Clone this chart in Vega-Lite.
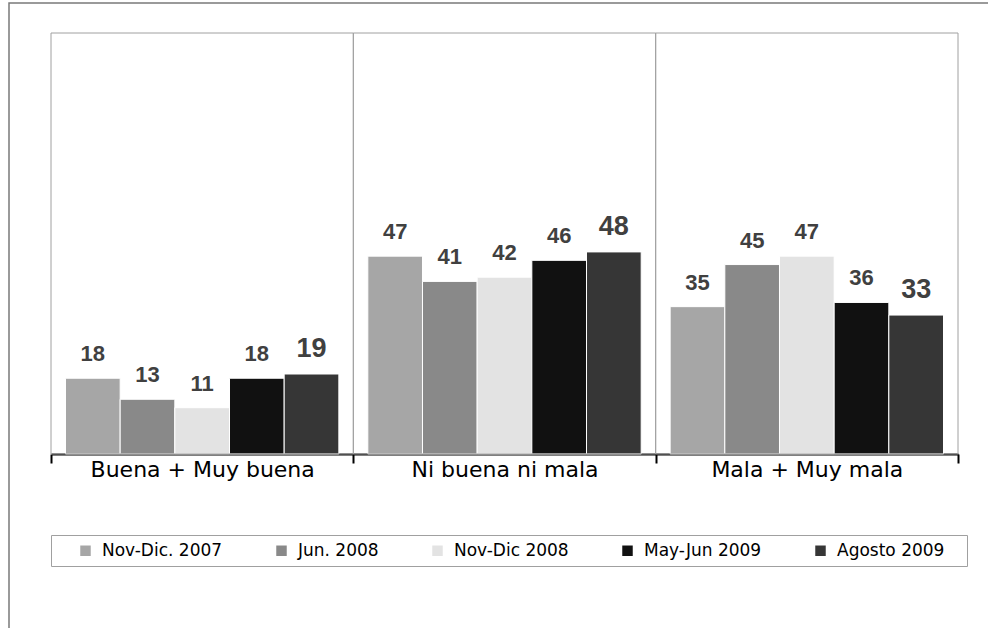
{
  "$schema": "https://vega.github.io/schema/vega-lite/v6.json",
  "width": 991,
  "height": 630,
  "padding": {"left": 9, "top": 3, "right": 0, "bottom": 0},
  "background": "white",
  "config": {
    "view": {"stroke": "#7a7a7a", "strokeWidth": 1.5},
    "font": "DejaVu Sans"
  },
  "data": {"values": [
      {"cat": "Buena + Muy buena", "serie": "Nov-Dic. 2007", "valor": 18},
      {"cat": "Buena + Muy buena", "serie": "Jun. 2008", "valor": 13},
      {"cat": "Buena + Muy buena", "serie": "Nov-Dic 2008", "valor": 11},
      {"cat": "Buena + Muy buena", "serie": "May-Jun 2009", "valor": 18},
      {"cat": "Buena + Muy buena", "serie": "Agosto 2009", "valor": 19},
      {"cat": "Ni buena ni mala", "serie": "Nov-Dic. 2007", "valor": 47},
      {"cat": "Ni buena ni mala", "serie": "Jun. 2008", "valor": 41},
      {"cat": "Ni buena ni mala", "serie": "Nov-Dic 2008", "valor": 42},
      {"cat": "Ni buena ni mala", "serie": "May-Jun 2009", "valor": 46},
      {"cat": "Ni buena ni mala", "serie": "Agosto 2009", "valor": 48},
      {"cat": "Mala + Muy mala", "serie": "Nov-Dic. 2007", "valor": 35},
      {"cat": "Mala + Muy mala", "serie": "Jun. 2008", "valor": 45},
      {"cat": "Mala + Muy mala", "serie": "Nov-Dic 2008", "valor": 47},
      {"cat": "Mala + Muy mala", "serie": "May-Jun 2009", "valor": 36},
      {"cat": "Mala + Muy mala", "serie": "Agosto 2009", "valor": 33}
  ]},
  "encoding": {
    "x": {
      "field": "cat", "type": "nominal",
      "sort": ["Buena + Muy buena", "Ni buena ni mala", "Mala + Muy mala"],
      "scale": {"range": [42, 949], "paddingInner": 0, "paddingOuter": 0},
      "axis": {
        "title": null, "orient": "bottom", "offset": -179, "labelAngle": 0,
        "domainColor": "#000000", "domainWidth": 2,
        "tickColor": "#000000", "tickWidth": 2, "tickSize": 9, "tickBand": "extent",
        "grid": false, "labelLimit": 400,
        "labelFont": "DejaVu Sans", "labelFontSize": 22, "labelColor": "#000000", "labelPadding": -4
      }
    },
    "y": {
      "field": "valor", "type": "quantitative",
      "scale": {"domain": [0, 100], "range": [451, 30], "nice": false},
      "axis": null
    }
  },
  "layer": [
    {
      "mark": {"type": "bar", "stroke": "white", "strokeWidth": 1},
      "encoding": {
        "xOffset": {
          "field": "serie", "type": "nominal",
          "sort": ["Nov-Dic. 2007", "Jun. 2008", "Nov-Dic 2008", "May-Jun 2009", "Agosto 2009"],
          "scale": {"paddingInner": 0, "paddingOuter": 0.265}
        },
        "color": {
          "field": "serie", "type": "nominal",
          "sort": ["Nov-Dic. 2007", "Jun. 2008", "Nov-Dic 2008", "May-Jun 2009", "Agosto 2009"],
          "scale": {
            "domain": ["Nov-Dic. 2007", "Jun. 2008", "Nov-Dic 2008", "May-Jun 2009", "Agosto 2009"],
            "range": ["#a6a6a6", "#898989", "#e3e3e3", "#111111", "#363636"]
          },
          "legend": {
            "orient": "none", "legendX": 42, "legendY": 532,
            "direction": "horizontal", "columns": 5,
            "title": " ", "titleOrient": "right", "titleFontSize": 1, "titlePadding": 16,
            "symbolType": "square", "symbolSize": 110, "symbolStrokeWidth": 0, "symbolOffset": 19,
            "labelFont": "DejaVu Sans", "labelFontSize": 17, "labelColor": "#000000",
            "labelOffset": 8, "columnPadding": 31, "padding": 7,
            "strokeColor": "#a0a0a0", "fillColor": "white"
          }
        }
      }
    },
    {
      "transform": [{"filter": "datum.serie === 'Nov-Dic. 2007'"}],
      "mark": {"type": "bar", "fillOpacity": 0, "stroke": "#a0a0a0", "strokeWidth": 1},
      "encoding": {
        "y": {"datum": 100, "type": "quantitative", "stack": null},
        "y2": {"datum": 0}
      }
    },
    {
      "transform": [{"filter": "datum.serie !== 'Agosto 2009'"}],
      "mark": {"type": "text", "dy": -17, "baseline": "alphabetic", "fontWeight": "bold", "color": "#404040", "font": "Liberation Sans", "fontSize": 22},
      "encoding": {
        "xOffset": {
          "field": "serie", "type": "nominal",
          "sort": ["Nov-Dic. 2007", "Jun. 2008", "Nov-Dic 2008", "May-Jun 2009", "Agosto 2009"],
          "scale": {"paddingInner": 0, "paddingOuter": 0.265}
        },
        "text": {"field": "valor", "type": "quantitative"}
      }
    },
    {
      "transform": [{"filter": "datum.serie === 'Agosto 2009'"}],
      "mark": {"type": "text", "dy": -17, "baseline": "alphabetic", "fontWeight": "bold", "color": "#404040", "font": "Liberation Sans", "fontSize": 27},
      "encoding": {
        "xOffset": {
          "field": "serie", "type": "nominal",
          "sort": ["Nov-Dic. 2007", "Jun. 2008", "Nov-Dic 2008", "May-Jun 2009", "Agosto 2009"],
          "scale": {"paddingInner": 0, "paddingOuter": 0.265}
        },
        "text": {"field": "valor", "type": "quantitative"}
      }
    }
  ]
}
